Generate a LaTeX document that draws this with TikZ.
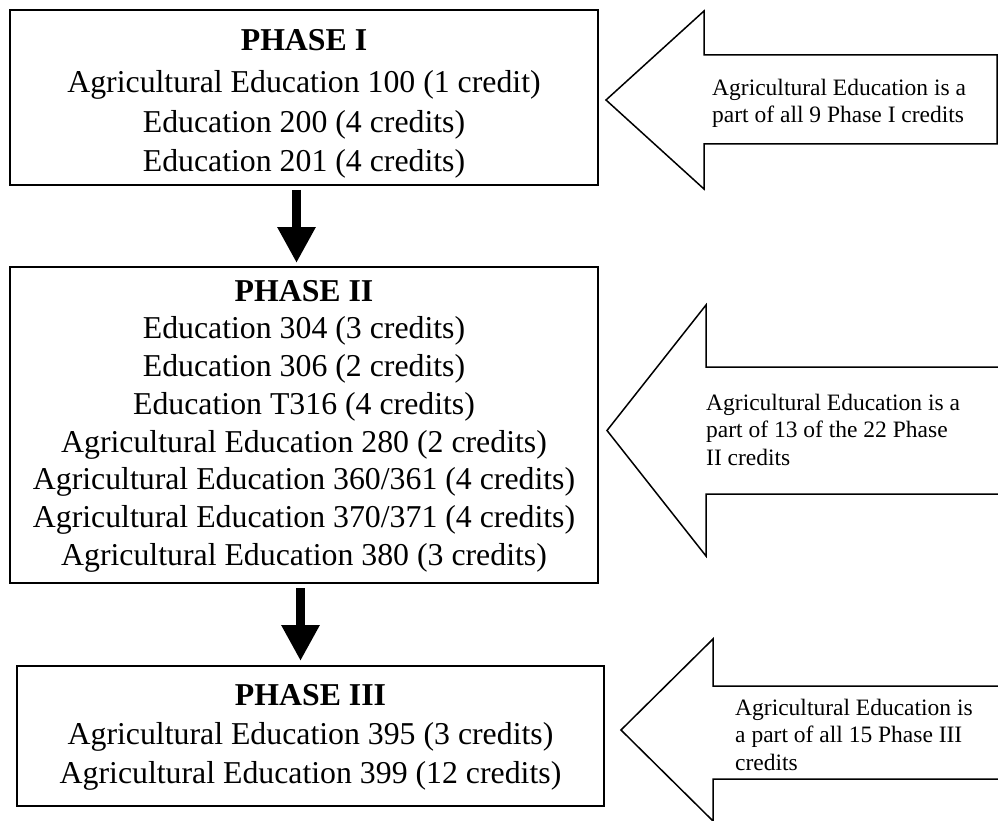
\documentclass[tikz,border=0pt]{standalone}
\usepackage{fontspec}
\setmainfont{Liberation Serif}
\usetikzlibrary{arrows.meta,calc}
\begin{document}
\begin{tikzpicture}[x=1pt,y=-1pt,
  phasebox/.style={draw,line width=2pt,inner sep=0pt,rectangle},
  phasetext/.style={anchor=north,inner sep=0pt,align=center,font=\fontsize{31.8}{39.5}\selectfont},
  sidearrow/.style={draw,line width=1.5pt,line join=miter,fill=white},
  sidetext/.style={anchor=north west,inner sep=0pt,align=left,font=\fontsize{23.5}{27.3}\selectfont},
  flowarrow/.style={line width=9pt,-{Triangle[width=36pt,length=36pt]}}]
\useasboundingbox (0,0) rectangle (998,821);
\clip (0,0) rectangle (998,821);
% phase boxes
\node[phasebox,minimum width=588pt,minimum height=175pt] (b1) at (304,97.5) {};
\node[phasebox,minimum width=588pt,minimum height=316pt] (b2) at (304,425) {};
\node[phasebox,minimum width=587pt,minimum height=140pt] (b3) at (310.5,736) {};
% phase texts
\node[phasetext] (t1) at (304,29) {{\bfseries PHASE I}\\[3pt]Agricultural Education 100 (1 credit)\\Education 200 (4 credits)\\Education 201 (4 credits)};
\node[phasetext,font=\fontsize{31.8}{37.7}\selectfont] (t2) at (304,280) {{\bfseries PHASE II}\\Education 304 (3 credits)\\Education 306 (2 credits)\\Education T316 (4 credits)\\Agricultural Education 280 (2 credits)\\Agricultural Education 360/361 (4 credits)\\Agricultural Education 370/371 (4 credits)\\Agricultural Education 380 (3 credits)};
\node[phasetext,font=\fontsize{31.8}{39}\selectfont] (t3) at (310.5,684) {{\bfseries PHASE III}\\Agricultural Education 395 (3 credits)\\Agricultural Education 399 (12 credits)};
% flow arrows
\draw[flowarrow] ($(b1.south)+(-7.5,4)$) -- ($(b2.north)+(-7.5,-3)$);
\draw[flowarrow] ($(b2.south)+(-3.5,4)$) -- ($(b3.north)+(-10,-4)$);
% side block arrows
\draw[sidearrow] (606,100) -- (704,11) -- (704,55) -- (997,55) -- (997,144) -- (704,144) -- (704,189) -- cycle;
\draw[sidearrow] (607,430.5) -- (706,305) -- (706,367) -- (1010,367) -- (1010,494) -- (706,494) -- (706,556) -- cycle;
\draw[sidearrow] (621,730) -- (713,639) -- (713,686) -- (1010,686) -- (1010,779) -- (713,779) -- (713,821) -- cycle;
% side texts
\node[sidetext] (s1) at (712,79) {Agricultural Education is a\\part of all 9 Phase I credits};
\node[sidetext] (s2) at (706,394) {Agricultural Education is a\\part of 13 of the 22 Phase\\II credits};
\node[sidetext] (s3) at (735,699) {Agricultural Education is\\a part of all 15 Phase III\\credits};
\end{tikzpicture}
\end{document}
